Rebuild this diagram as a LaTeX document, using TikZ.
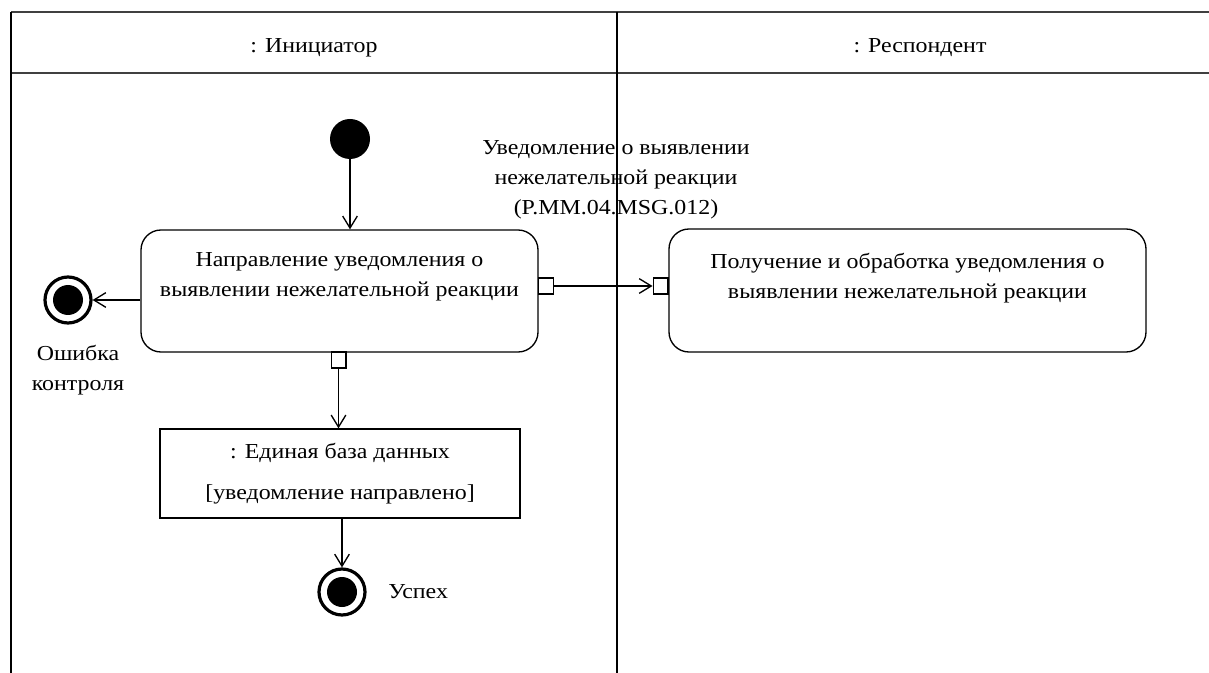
\documentclass[tikz,border=0pt]{standalone}
\usepackage{fontspec}
\setmainfont[FakeStretch=1.12]{Liberation Serif}
\usetikzlibrary{arrows.meta}
\begin{document}
\begin{tikzpicture}[x=0.75pt,y=-0.75pt,
  txt/.style={font=\fontsize{16}{22.5}\selectfont, align=center, inner sep=0pt},
  act/.style={draw, rounded corners=15pt, line width=1pt, inner sep=0pt},
  objbox/.style={draw, line width=1pt, inner sep=0pt, font=\fontsize{16}{30.75}\selectfont, align=center},
  pinbox/.style={draw, fill=white, line width=1pt, minimum width=11pt, minimum height=12pt, inner sep=0pt},
  arr/.style={line width=1pt, -{Straight Barb[length=9pt,width=11pt,line width=1pt]}},
  initnode/.style={circle, fill=black, minimum size=30pt, inner sep=0pt},
  finalnode/.style={circle, draw=black, line width=2.4pt, minimum size=34.5pt, inner sep=0pt,
    path picture={\fill[black] (path picture bounding box.center) circle (11.25pt);}},
  lane/.style={line width=1.1pt, black},
  hline/.style={line width=1.8pt, black!75}
]
\useasboundingbox (0,0) rectangle (1209,673);
\fill[white] (0,0) rectangle (1209,673);
% swimlanes
\draw[hline] (11,12) -- (1209,12);
\draw[hline] (11,73) -- (1209,73);
\draw[lane] (11,12) -- (11,673);
\draw[lane] (617,12) -- (617,673);
\node[txt] (h1) at (314,48) {: Инициатор};
\node[txt] (h2) at (920,48) {: Респондент};
% nodes
\node[initnode] (I) at (350,139) {};
\node[act, minimum width=297.75pt, minimum height=91.5pt] (A) at (339.5,291) {};
\node[txt] (Atxt) at (339.5,277) {Направление уведомления о\\выявлении нежелательной реакции};
\node[act, minimum width=357.75pt, minimum height=92.25pt] (B) at (907.5,290.5) {};
\node[txt] (Btxt) at (907.5,278) {Получение и обработка уведомления о\\выявлении нежелательной реакции};
\node[objbox, minimum width=270pt, minimum height=66.75pt] (C) at (340,473.5) {: Единая база данных\\{}[уведомление направлено]};
\node[pinbox] (pA) at (546,286) {};
\node[pinbox] (pB) at (660.5,286) {};
\node[pinbox] (pC) at (338.5,360) {};
\node[finalnode] (F1) at (68,300) {};
\node[finalnode] (F2) at (342,592) {};
\node[txt] (msg) at (616,180) {Уведомление о выявлении\\нежелательной реакции\\(P.MM.04.MSG.012)};
\node[txt] (err) at (78,370) {Ошибка\\контроля};
\node[txt, anchor=west] (ok) at (388,592) {Успех};
% connectors
\draw[arr] (I.south) -- (I.south |- A.north);
\draw[arr] (pA.east) -- (pB.west);
\draw[arr] (A.west |- F1) -- (F1.east);
\draw[arr] (pC.south) -- (pC.south |- C.north);
\draw[arr] (C.south -| F2) -- (F2.north);
\end{tikzpicture}
\end{document}
